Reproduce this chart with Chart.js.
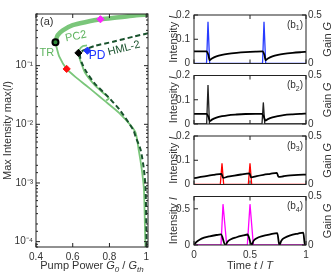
<!DOCTYPE html>
<html>
<head>
<meta charset="utf-8">
<script src="https://cdn.jsdelivr.net/npm/chart.js@4.4.1/dist/chart.umd.min.js"></script>
<style>
  html, body { margin: 0; padding: 0; background: #fff; width: 335px; height: 277px; overflow: hidden; }
  canvas { position: absolute; top: 0; }
  #left { left: 0; }
  .panel { left: 166px; }
</style>
</head>
<body>
<canvas id="left" width="170" height="277"></canvas>
<canvas id="b1" class="panel" width="169" height="277"></canvas>
<canvas id="b2" class="panel" width="169" height="277"></canvas>
<canvas id="b3" class="panel" width="169" height="277"></canvas>
<canvas id="b4" class="panel" width="169" height="277"></canvas>
<script>
// ---- panel (a): max intensity vs pump power ----
const trX = [0.506, 0.518, 0.546, 0.600, 0.673, 0.751, 0.854, 0.946, 1.01];
const trY = [0.25, 0.33, 0.40, 0.489, 0.556, 0.618, 0.668, 0.722, 0.748];

const lowX = [0.506, 0.509, 0.527, 0.567, 0.618, 0.673, 0.722, 0.773, 0.854, 0.94, 0.959, 0.976, 0.988, 0.995, 0.996];
const lowY = [0.25, 0.225, 0.142, 0.088, 0.063, 0.046, 0.0343, 0.0253, 0.0155, 0.0075, 0.0037, 0.0017, 0.00076, 0.000107, 0.00008];

const pc2X = [0.678, 0.656, 0.637, 0.632, 0.637, 0.648, 0.669, 0.716, 0.76, 0.797, 0.782];
const pc2Y = [0.221, 0.217, 0.189, 0.164, 0.135, 0.107, 0.074, 0.048, 0.0356, 0.0278, 0.0255];

const hmlX = [1.01, 0.930, 0.820, 0.719, 0.68, 0.655, 0.641, 0.641, 0.652, 0.674, 0.719, 0.792, 0.856, 0.930, 0.942, 0.970, 0.988, 0.997, 1.002, 1.003];
const hmlY = [0.356, 0.312, 0.256, 0.217, 0.195, 0.18, 0.164, 0.135, 0.107, 0.079, 0.050, 0.0296, 0.0176, 0.0080, 0.0062, 0.00366, 0.00167, 0.00076, 0.000107, 0.00008];

const markX = [0.506, 0.631, 0.68, 0.567, 0.751];
const markY = [0.25, 0.165, 0.18, 0.088, 0.618];
const markColor = ['#2f8a3a', '#000000', '#1f35ff', '#ff1010', '#ff22ff'];
const markStyle = ['circle', 'rectRot', 'rectRot', 'rectRot', 'rectRot'];

const pumpTicks = [0.4, 0.6, 0.8, 1];

// ---- panels (b1)-(b4): time traces ----
const b1tI = [0, 0.112, 0.125, 0.14, 0.612, 0.625, 0.64, 1];
const b1I  = [0, 0, 0.172, 0, 0, 0.172, 0, 0];
const b1tG = [0, 0.112, 0.128, 0.14, 0.16, 0.2, 0.25, 0.3, 0.38, 0.46, 0.55, 0.612, 0.628, 0.64, 0.66, 0.7, 0.75, 0.8, 0.88, 0.96, 1];
const b1G  = [0.125, 0.125, 0.09, 0.035, 0.052, 0.074, 0.09, 0.1, 0.11, 0.117, 0.122, 0.124, 0.09, 0.035, 0.052, 0.074, 0.09, 0.1, 0.11, 0.117, 0.12];

const b2tI = [0, 0.113, 0.125, 0.138, 0.607, 0.619, 0.632, 1];
const b2I  = [0, 0, 0.161, 0, 0, 0.089, 0, 0];
const b2tG = [0, 0.113, 0.13, 0.142, 0.16, 0.2, 0.25, 0.3, 0.38, 0.46, 0.55, 0.607, 0.625, 0.637, 0.66, 0.7, 0.75, 0.8, 0.88, 0.96, 1];
const b2G  = [0.105, 0.105, 0.07, 0.03, 0.045, 0.065, 0.08, 0.09, 0.098, 0.103, 0.105, 0.105, 0.07, 0.035, 0.05, 0.068, 0.082, 0.092, 0.1, 0.105, 0.107];

const b3tI = [0, 0.235, 0.25, 0.265, 0.485, 0.5, 0.515, 1];
const b3I  = [0, 0, 0.087, 0, 0, 0.087, 0, 0];
const b3tG = [0, 0.06, 0.12, 0.18, 0.245, 0.26, 0.3, 0.36, 0.42, 0.495, 0.51, 0.56, 0.62, 0.68, 0.74, 0.755, 0.8, 0.86, 0.93, 1];
const b3G  = [0.065, 0.078, 0.09, 0.1, 0.11, 0.068, 0.08, 0.092, 0.103, 0.115, 0.073, 0.087, 0.1, 0.11, 0.12, 0.078, 0.085, 0.093, 0.099, 0.102];

const b4tI = [0, 0.241, 0.259, 0.292, 0.476, 0.5, 0.53, 1];
const b4I  = [0, 0, 0.564, 0, 0, 0.564, 0, 0];
const b4tG = [0, 0.02, 0.05, 0.09, 0.14, 0.2, 0.241, 0.28, 0.3, 0.33, 0.38, 0.44, 0.478, 0.515, 0.53, 0.56, 0.61, 0.68, 0.744, 0.762, 0.78, 0.81, 0.86, 0.93, 0.976, 0.99, 1];
const b4G  = [0, 0.03, 0.055, 0.075, 0.09, 0.103, 0.11, 0, 0.035, 0.06, 0.08, 0.098, 0.108, 0, 0.04, 0.07, 0.092, 0.11, 0.122, 0, 0.045, 0.075, 0.1, 0.118, 0.128, 0, 0];

const timeTicks = [0, 0.5, 1];

// colours
const LIGHT = 'rgb(122,198,122)';
const LIGHT_TXT = 'rgb(96,180,96)';
const DARK = 'rgb(24,82,44)';
const FAM = '"Liberation Sans", Arial, Helvetica, sans-serif';
const INK = '#333';

Chart.defaults.font.family = FAM;
Chart.defaults.font.size = 10;
Chart.defaults.color = INK;
Chart.defaults.animation = false;

const pts = (xs, ys) => xs.map((x, i) => ({ x: x, y: ys[i] }));
const fmt = v => String(+(+v).toFixed(2));
const SUP = { '-': '\u207b', '0': '\u2070', '1': '\u00b9', '2': '\u00b2', '3': '\u00b3', '4': '\u2074', '5': '\u2075' };
const isPow10 = v => Math.abs(Math.log10(v) - Math.round(Math.log10(v))) < 1e-6;

// text with italic / subscript pieces
function richText(ctx, parts, x, y, size, rot, align, color) {
    ctx.save();
    ctx.translate(x, y);
    if (rot) ctx.rotate(rot);
    ctx.fillStyle = color || INK;
    ctx.textBaseline = 'middle';
    const fontOf = p => (p.i ? 'italic ' : '') + (p.sub ? Math.round(size * 0.72) : size) + 'px ' + FAM;
    let w = 0;
    parts.forEach(p => { ctx.font = fontOf(p); w += ctx.measureText(p.t).width; });
    let cx = align === 'left' ? 0 : align === 'right' ? -w : -w / 2;
    parts.forEach(p => {
        ctx.font = fontOf(p);
        ctx.fillText(p.t, cx, p.sub ? size * 0.32 : 0);
        cx += ctx.measureText(p.t).width;
    });
    ctx.restore();
}

// box + inward ticks + free texts
const framePlugin = {
    id: 'frame',
    afterDatasetsDraw(chart, args, opts) {
        const ctx = chart.ctx, a = chart.chartArea;
        ctx.save();
        ctx.strokeStyle = '#222';
        ctx.lineWidth = 1;
        ctx.strokeRect(a.left, a.top, a.right - a.left, a.bottom - a.top);
        const sides = opts.sides || {};
        Object.keys(sides).forEach(id => {
            const sc = chart.scales[id];
            sc.ticks.forEach(t => {
                const p = sc.getPixelForValue(t.value);
                const major = sc.type !== 'logarithmic' || isPow10(t.value);
                const len = major ? 4 : 2;
                sides[id].forEach(s => {
                    ctx.beginPath();
                    if (s === 'bottom') { ctx.moveTo(p, a.bottom); ctx.lineTo(p, a.bottom - len); }
                    if (s === 'top') { ctx.moveTo(p, a.top); ctx.lineTo(p, a.top + len); }
                    if (s === 'left') { ctx.moveTo(a.left, p); ctx.lineTo(a.left + len, p); }
                    if (s === 'right') { ctx.moveTo(a.right, p); ctx.lineTo(a.right - len, p); }
                    ctx.stroke();
                });
            });
        });
        ctx.restore();
        (opts.texts || []).forEach(tx => richText(ctx, tx.parts, tx.x - (opts.dx || 0), tx.y, tx.size || 11, tx.rot || 0, tx.align, tx.color));
    }
};
Chart.register(framePlugin);

// ---- build panel (a) ----
new Chart(document.getElementById('left'), {
    type: 'scatter',
    data: {
        datasets: [
            {
                data: pts(markX, markY),
                pointStyle: markStyle,
                pointRadius: [3, 3.6, 3.6, 3.6, 3.6],
                pointBackgroundColor: markColor,
                pointBorderColor: ['#000', '#000', '#1f35ff', '#ff1010', '#ff22ff'],
                pointBorderWidth: [2, 1, 1, 1, 1],
                order: 0
            },
            { data: pts(hmlX, hmlY), showLine: true, pointRadius: 0, borderColor: DARK, borderWidth: 2, borderDash: [5, 3], tension: 0.25, order: 1 },
            { data: pts(pc2X, pc2Y), showLine: true, pointRadius: 0, borderColor: LIGHT, borderWidth: 1.8, tension: 0.25, order: 2 },
            { data: pts(lowX, lowY), showLine: true, pointRadius: 0, borderColor: LIGHT, borderWidth: 1.8, tension: 0.2, order: 3 },
            { data: pts(trX, trY), showLine: true, pointRadius: 0, borderColor: LIGHT, borderWidth: 4.5, tension: 0.3, order: 4 }
        ]
    },
    options: {
        responsive: false,
        layout: { padding: { top: 14, right: 22, left: 0, bottom: 0 } },
        plugins: {
            legend: { display: false },
            tooltip: { enabled: false },
            frame: {
                sides: { x: ['bottom', 'top'], y: ['left', 'right'] },
                texts: [
                    { parts: [{ t: 'Max Intensity max(' }, { t: 'I', i: true }, { t: ')' }], x: 8, y: 130.5, rot: -Math.PI / 2 },
                    { parts: [{ t: 'Pump Power ' }, { t: 'G', i: true }, { t: '0', i: true, sub: true }, { t: ' / ' }, { t: 'G', i: true }, { t: 'th', i: true, sub: true }], x: 92, y: 266 },
                    { parts: [{ t: '(a)' }], x: 40, y: 22, align: 'left' },
                    { parts: [{ t: 'TR' }], x: 39.5, y: 52.5, align: 'left', color: LIGHT_TXT },
                    { parts: [{ t: 'PC2' }], x: 76, y: 36.5, rot: -0.2, color: LIGHT_TXT },
                    { parts: [{ t: 'HML-2' }], x: 124, y: 48.5, rot: -0.25, color: DARK },
                    { parts: [{ t: 'PD' }], x: 97, y: 56, size: 12, color: '#1f35ff' }
                ]
            }
        },
        scales: {
            x: {
                type: 'linear', min: 0.4, max: 1.01,
                afterFit: s => { s.height = 30; },
                afterBuildTicks: s => { s.ticks = pumpTicks.map(v => ({ value: v })); },
                grid: { display: false, drawTicks: false },
                border: { display: false },
                ticks: { padding: 4, callback: fmt, maxRotation: 0, autoSkip: false }
            },
            y: {
                type: 'logarithmic', min: 8.1e-5, max: 0.76,
                afterFit: s => { s.width = 36; },
                grid: { display: false, drawTicks: false },
                border: { display: false },
                ticks: {
                    padding: 3, autoSkip: false,
                    callback: v => isPow10(v) ? '10' + String(Math.round(Math.log10(v))).split('').map(c => SUP[c]).join('') : ''
                }
            }
        }
    }
});

// ---- build panels (b1)-(b4) ----
const CANVAS_DX = 166;
function makePanel(id, num, top, bottom, tI, I, iColor, tG, G, yMax, yStep, showX) {
    const mid = (top + bottom) / 2;
    const texts = [
        { parts: [{ t: 'Intensity ' }, { t: 'I', i: true }], x: 174, y: mid, rot: -Math.PI / 2 },
        { parts: [{ t: 'Gain ' }, { t: 'G', i: true }], x: 327.5, y: mid, rot: -Math.PI / 2 },
        { parts: [{ t: '(b' }, { t: num, sub: true }, { t: ')' }], x: 303, y: top + 10, size: 10, align: 'right' }
    ];
    if (showX) texts.push({ parts: [{ t: 'Time ' }, { t: 't', i: true }, { t: ' / ' }, { t: 'T', i: true }], x: 250, y: 266 });
    new Chart(document.getElementById(id), {
        type: 'scatter',
        data: {
            datasets: [
                { data: pts(tI, I), yAxisID: 'y', showLine: true, pointRadius: 0, borderColor: iColor, borderWidth: 1.3, order: 1 },
                { data: pts(tG, G), yAxisID: 'y2', showLine: true, pointRadius: 0, borderColor: '#000', borderWidth: 1.8, cubicInterpolationMode: 'monotone', order: 0 }
            ]
        },
        options: {
            responsive: false,
            layout: { padding: { top: top, right: 0, left: 0, bottom: 0 } },
            plugins: {
                legend: { display: false },
                tooltip: { enabled: false },
                frame: { dx: CANVAS_DX, sides: { x: ['bottom', 'top'], y: ['left'], y2: ['right'] }, texts: texts }
            },
            scales: {
                x: {
                    type: 'linear', min: 0, max: 1,
                    afterFit: s => { s.height = 277 - bottom; },
                    afterBuildTicks: s => { s.ticks = timeTicks.map(v => ({ value: v })); },
                    grid: { display: false, drawTicks: false },
                    border: { display: false },
                    ticks: { display: showX, padding: 4, callback: fmt, maxRotation: 0, autoSkip: false }
                },
                y: {
                    type: 'linear', position: 'left', min: 0, max: yMax,
                    afterFit: s => { s.width = 28; },
                    grid: { display: false, drawTicks: false },
                    border: { display: false },
                    ticks: { stepSize: yStep, includeBounds: false, padding: 4, callback: fmt }
                },
                y2: {
                    type: 'linear', position: 'right', min: 0, max: 0.5,
                    afterFit: s => { s.width = 29; },
                    grid: { display: false, drawTicks: false },
                    border: { display: false },
                    ticks: { stepSize: 0.5, padding: 2, callback: fmt }
                }
            }
        }
    });
}

makePanel('b1', '1', 15, 63.5, b1tI, b1I, 'rgb(40,60,255)', b1tG, b1G, 0.2, 0.1, false);
makePanel('b2', '2', 75.5, 124, b2tI, b2I, '#222', b2tG, b2G, 0.2, 0.1, false);
makePanel('b3', '3', 136, 184.5, b3tI, b3I, 'rgb(255,0,0)', b3tG, b3G, 0.2, 0.1, false);
makePanel('b4', '4', 196.5, 245, b4tI, b4I, 'rgb(255,0,255)', b4tG, b4G, 0.67, 0.5, true);
</script>
</body>
</html>
